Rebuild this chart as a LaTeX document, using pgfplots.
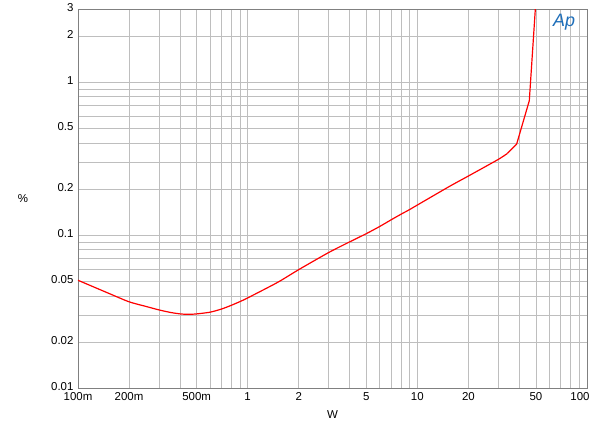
\documentclass[border=0pt]{standalone}
\usepackage{pgfplots}
\pgfplotsset{compat=1.18}
\usepackage{fontspec}
\setmainfont{Liberation Sans}
\definecolor{gridgray}{RGB}{190,190,190}
\definecolor{apblue}{RGB}{30,110,185}
\begin{document}
\begin{tikzpicture}
\begin{axis}[
  scale only axis,
  width=509bp, height=379bp,
  xmode=log, ymode=log,
  xmin=0.1, xmax=100, ymin=0.01, ymax=3,
  xtick={0.1,0.2,0.5,1,2,5,10,20,50},
  xticklabels={100m,200m,500m,1,2,5,10,20,50},
  ytick={0.01,0.02,0.05,0.1,0.2,0.5,1,2,3},
  yticklabels={0.01,0.02,0.05,0.1,0.2,0.5,1,2,3},
  minor xtick={0.3,0.4,0.6,0.7,0.8,0.9,3,4,6,7,8,9,30,40,60,70,80,90},
  minor ytick={0.03,0.04,0.06,0.07,0.08,0.09,0.3,0.4,0.6,0.7,0.8,0.9},
  grid=both,
  major grid style={gridgray, line width=0.7pt},
  minor grid style={gridgray, line width=0.7pt},
  axis line style={gray, line width=0.7pt},
  major tick length=0pt, minor tick length=0pt,
  tick label style={font=\fontsize{11.5}{13}\selectfont, text=black},
  /pgf/number format/assume math mode=true,
  xticklabel style={yshift=-4bp, inner ysep=0bp},
  yticklabel style={xshift=-1bp, yshift=1.5bp, inner ysep=0bp},
  xlabel={W}, ylabel={\%},
  every axis x label/.style={at={(axis description cs:0.5,0)}, anchor=center, yshift=-27bp, font=\fontsize{11.5}{13}\selectfont},
  every axis y label/.style={at={(axis description cs:0,0.5)}, anchor=center, xshift=-55bp, font=\fontsize{11.5}{13}\selectfont},
  clip mode=individual,
]
\addplot[color=red, line width=1.2pt, smooth, tension=0.4] coordinates {
(0.1,0.0506) (0.15,0.0418) (0.2,0.0366) (0.25,0.0342) (0.3,0.0324) (0.35,0.0312)
(0.4,0.0305) (0.45,0.0303) (0.5,0.0305) (0.6,0.0313) (0.7,0.0328) (0.8,0.0347)
(0.9,0.0367) (1.0,0.0388) (1.5,0.0490) (2,0.0594) (3,0.0768) (4,0.0903) (5,0.102)
(6,0.1137) (7,0.1256) (8,0.1366) (9,0.1466) (10,0.157) (15.6,0.209) (20,0.243)
(30,0.312) (33.9,0.341)
};
\addplot[color=red, line width=1.2pt] coordinates {
(33.9,0.341) (38.5,0.393) (45.7,0.755) (49.6,3.0) (50.3,4.0)
};
\node[anchor=north, font=\fontsize{11.5}{13}\selectfont, inner ysep=0bp, xshift=-7bp, yshift=-4bp] at (axis cs:100,0.01) {100};
\node[font=\fontsize{18}{18}\selectfont\itshape, text=apblue] at (rel axis cs:0.955,0.965) {Ap};
\path (rel axis cs:0,0) ++(-78bp,-45bp) coordinate (bl);
\path (rel axis cs:1,1) ++(13bp,9bp) coordinate (tr);
\end{axis}
\useasboundingbox (bl) rectangle (tr);
\end{tikzpicture}
\end{document}
